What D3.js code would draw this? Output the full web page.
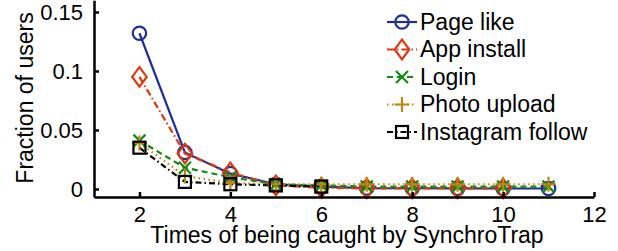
<!DOCTYPE html>
<html>
<head>
<meta charset="utf-8">
<script src="https://cdn.jsdelivr.net/npm/d3@7"></script>
<style>
  body { margin: 0; background: #fff; }
  text { font-family: "Liberation Sans", Arial, sans-serif; fill: #000; }
</style>
</head>
<body>
<div id="chart"></div>
<script>
// data
var times = [2, 3, 4, 5, 6, 7, 8, 9, 10, 11];
var pageLike = [0.132, 0.031, 0.013, 0.004, 0.002, 0.0008, 0.0006, 0.0005, 0.0004, 0.0004];
var appInstall = [0.095, 0.030, 0.014, 0.003, 0.001, 0.0005, 0.0005, 0.0005, 0.0005];
var login = [0.041, 0.018, 0.010, 0.004, 0.003, 0.002, 0.002, 0.002, 0.002, 0.002];
var photoUpload = [0.039, 0.011, 0.005, 0.004, 0.004, 0.004, 0.004, 0.004, 0.004, 0.004];
var instaFollow = [0.035, 0.006, 0.004, 0.003, 0.002];
var xTicks = [2, 4, 6, 8, 10, 12];
var yTicks = [0, 0.05, 0.1, 0.15];
var yTickLabels = ["0", "0.05", "0.1", "0.15"];

var width = 618, height = 251;

var svg = d3.select("#chart")
  .append("svg")
  .attr("width", width)
  .attr("height", height);

var x = d3.scaleLinear().domain([1, 12]).range([94, 594]);
var y = d3.scaleLinear().domain([-0.0068, 0.16]).range([197, 0.2]);

// series table
var series = [
  { name: "Page like", values: pageLike, color: "#1c2f96", dash: null, marker: "circle" },
  { name: "App install", values: appInstall, color: "#e0380e", dash: "7,3,1.5,3", marker: "diamond" },
  { name: "Login", values: login, color: "#138a13", dash: "6,4", marker: "x" },
  { name: "Photo upload", values: photoUpload, color: "#c0850c", dash: "1.5,3.5", marker: "plus" },
  { name: "Instagram follow", values: instaFollow, color: "#000000", dash: "6,3,1.5,3", marker: "square" }
];

function drawMarker(g, type, color) {
  if (type == "circle") {
    g.append("circle").attr("r", 6.7)
      .attr("fill", "none").attr("stroke", color).attr("stroke-width", 2.2);
  } else if (type == "diamond") {
    g.append("path").attr("d", "M0,-9.8L7.3,0L0,9.8L-7.3,0Z")
      .attr("fill", "none").attr("stroke", color).attr("stroke-width", 2.2);
  } else if (type == "x") {
    g.append("path").attr("d", "M-6,-6L6,6M-6,6L6,-6")
      .attr("fill", "none").attr("stroke", color).attr("stroke-width", 2.2);
  } else if (type == "plus") {
    g.append("path").attr("d", "M-7.5,0L7.5,0M0,-7.5L0,7.5")
      .attr("fill", "none").attr("stroke", color).attr("stroke-width", 2.2);
  } else if (type == "square") {
    g.append("rect").attr("x", -6).attr("y", -6).attr("width", 12).attr("height", 12)
      .attr("fill", "none").attr("stroke", color).attr("stroke-width", 2.2);
  }
}

var line = d3.line()
  .x(function (d, i) { return x(times[i]); })
  .y(function (d) { return y(d); });

// lines
series.forEach(function (s) {
  svg.append("path")
    .datum(s.values)
    .attr("fill", "none")
    .attr("stroke", s.color)
    .attr("stroke-width", 2.2)
    .attr("stroke-dasharray", s.dash)
    .attr("d", line);
});

// markers
series.forEach(function (s) {
  s.values.forEach(function (v, i) {
    var g = svg.append("g")
      .attr("transform", "translate(" + x(times[i]) + "," + y(v) + ")");
    drawMarker(g, s.marker, s.color);
  });
});

// axes
var xAxis = svg.append("g")
  .attr("transform", "translate(0," + y.range()[0] + ")")
  .call(d3.axisBottom(x).tickValues(xTicks).tickSizeInner(-5).tickSizeOuter(0).tickPadding(9));
var yAxis = svg.append("g")
  .attr("transform", "translate(" + x.range()[0] + ",0)")
  .call(d3.axisLeft(y).tickValues(yTicks).tickSizeInner(-5).tickSizeOuter(0).tickPadding(11)
    .tickFormat(function (d, i) { return yTickLabels[i]; }));

[xAxis, yAxis].forEach(function (a) {
  a.select(".domain").attr("stroke", "#000").attr("stroke-width", 2.5);
  a.selectAll(".tick line").attr("stroke", "#000").attr("stroke-width", 2.5);
  a.selectAll(".tick text").style("font-size", "22px").attr("fill", "#000");
});

// axis labels
svg.append("text")
  .attr("x", 347)
  .attr("y", 243)
  .attr("text-anchor", "middle")
  .style("font-size", "23px")
  .text("Times of being caught by SynchroTrap");

svg.append("text")
  .attr("transform", "translate(33,98) rotate(-90)")
  .attr("text-anchor", "middle")
  .style("font-size", "23px")
  .text("Fraction of users");

// legend
var legend = svg.append("g").attr("transform", "translate(387,22)");
series.forEach(function (s, i) {
  var row = legend.append("g").attr("transform", "translate(0," + (i * 27.5) + ")");
  row.append("line")
    .attr("x1", 0).attr("x2", 30)
    .attr("stroke", s.color).attr("stroke-width", 2.2)
    .attr("stroke-dasharray", s.dash);
  var m = row.append("g").attr("transform", "translate(15,0)");
  drawMarker(m, s.marker, s.color);
  row.append("text")
    .attr("x", 33).attr("y", 7.5)
    .style("font-size", "23px")
    .text(s.name);
});
</script>
</body>
</html>
